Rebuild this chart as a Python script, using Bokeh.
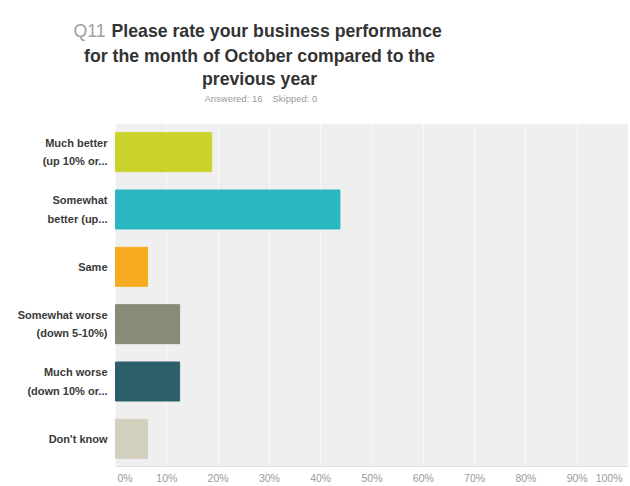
from bokeh.plotting import figure
from bokeh.layouts import column
from bokeh.models import Range1d, FixedTicker, ColumnDataSource, BoxAnnotation
from bokeh.core.properties import value
from bokeh.embed import file_html
from bokeh.resources import INLINE

# ---- data ----
categories = ["Much better\n(up 10% or...", "Somewhat\nbetter (up...", "Same",
              "Somewhat worse\n(down 5-10%)", "Much worse\n(down 10% or...", "Don't know"]
percent = [18.75, 43.75, 6.25, 12.5, 12.5, 6.25]
colors = ["#c9d32b", "#2ab7bf", "#f6ab1f", "#8a8a78", "#2d5f6b", "#d3cfbd"]
x_ticks = [0, 10, 20, 30, 40, 50, 60, 70, 80, 90, 100]
x_tick_labels = [f"{t}%" for t in x_ticks]
q_number = "Q11"
title_lines = ["Please rate your business performance",
               "for the month of October compared to the",
               "previous year"]
answered = "Answered: 16"
skipped = "Skipped: 0"

W = 630
RIGHT_BORDER = 2
FRAME_W = W - RIGHT_BORDER       # frames span page px 0..628
BAR_L = 115                      # page px where 0% sits
FONT = value("Liberation Sans")

def clean(fig):
    fig.axis.visible = False
    fig.grid.visible = False

# ---- header figure (coordinates in page pixels) ----
hdr = figure(width=W, height=112, output_backend="svg", toolbar_location=None,
             x_range=Range1d(0, FRAME_W), y_range=Range1d(112, 0),
             min_border_left=0, min_border_right=RIGHT_BORDER,
             min_border_top=0, min_border_bottom=0, outline_line_color=None)
clean(hdr)
TS = "17.7px"
hdr.text(x=[105], y=[30], text=[q_number], text_font=FONT, text_font_size=TS,
         text_color="#a0a0a0", text_align="right", text_baseline="alphabetic")
hdr.text(x=[111], y=[30], text=[title_lines[0]], text_font=FONT, text_font_size=TS,
         text_font_style="bold", text_color="#333333", text_align="left",
         text_baseline="alphabetic")
hdr.text(x=[259, 259], y=[55, 78], text=title_lines[1:], text_font=FONT,
         text_font_size=TS, text_font_style="bold", text_color="#333333",
         text_align="center", text_baseline="alphabetic")
hdr.text(x=[262], y=[98], text=[answered], text_font=FONT, text_font_size="9.5px",
         text_color="#9a9a9a", text_align="right", text_baseline="middle")
hdr.text(x=[272], y=[98], text=[skipped], text_font=FONT, text_font_size="9.5px",
         text_color="#9a9a9a", text_align="left", text_baseline="middle")

# ---- main chart ----
ys = list(range(len(categories)))
src = ColumnDataSource(dict(y=ys, right=percent, color=colors, label=categories))

x0 = x_ticks[0]
x1 = x_ticks[-1]
x_start = x0 - (x1 - x0) * BAR_L / (FRAME_W - BAR_L)
xr = Range1d(x_start, x1)
y_bottom = len(categories) - 0.5
p = figure(width=W, height=355, output_backend="svg", toolbar_location=None,
           x_range=xr, y_range=Range1d(y_bottom, -0.5),
           min_border_left=0, min_border_right=RIGHT_BORDER,
           min_border_top=11, min_border_bottom=0)
clean(p)
p.background_fill_color = "white"
p.outline_line_color = None

bg = BoxAnnotation(left=x0, right=x1, fill_color="#efefef", fill_alpha=1,
                   line_color=None, level="image")
p.add_layout(bg)

p.xgrid.visible = True
p.xgrid.ticker = FixedTicker(ticks=x_ticks)
p.xgrid.grid_line_color = "#fafafa"
p.xgrid.grid_line_width = 1

p.hbar(y="y", left=x0, right="right", height=0.68, color="color", source=src)

p.segment(x0=[x0], x1=[x1], y0=[y_bottom], y1=[y_bottom],
          line_color="#d4d4d4", line_width=2)

p.text(x=x0, y="y", text="label", source=src, x_offset=-8,
       text_font=FONT, text_font_size="11px", text_font_style="bold",
       text_color="#3a3a3a", text_align="right", text_baseline="middle",
       text_line_height=1.55)

# ---- footer with x tick labels (kept inside the gray area like the original) ----
ftr = figure(width=W, height=19, output_backend="svg", toolbar_location=None,
             x_range=xr, y_range=Range1d(19, 0),
             min_border_left=0, min_border_right=RIGHT_BORDER,
             min_border_top=0, min_border_bottom=0, outline_line_color=None)
clean(ftr)
aligns = ["left"] + ["center"] * (len(x_ticks) - 2) + ["right"]
offs = [2] + [0] * (len(x_ticks) - 2) + [-6]
fsrc = ColumnDataSource(dict(x=x_ticks, t=x_tick_labels, a=aligns, o=offs))
ftr.text(x="x", y=10.5, text="t", text_align="a", x_offset="o", source=fsrc,
         text_font=FONT, text_font_size="10.5px",
         text_color="#9a9a9a", text_baseline="middle")

layout = column(hdr, p, ftr, spacing=0)
open("out.html", "w").write(file_html(layout, INLINE))
